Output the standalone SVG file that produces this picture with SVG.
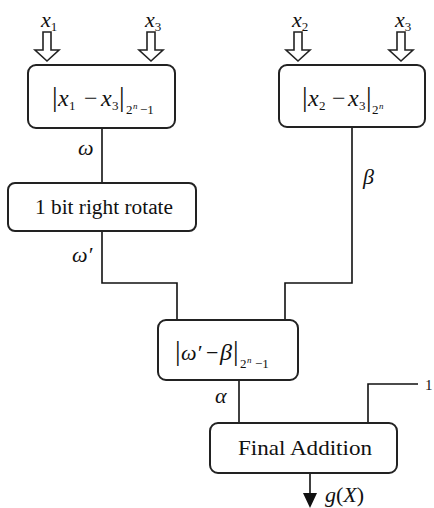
<svg xmlns="http://www.w3.org/2000/svg" width="434" height="508" viewBox="0 0 434 508">
<defs>
<style>
.box{fill:#fff;stroke:#222;stroke-width:2}
.ln{fill:none;stroke:#111;stroke-width:1.6}
.ha{fill:#fff;stroke:#222;stroke-width:1.6;stroke-linejoin:miter}
text{font-family:"Liberation Serif","DejaVu Serif","Noto Serif",serif;fill:#111}
.it{font-style:italic}
.up{font-style:normal}
.lbl{font-size:22px}
.sub{font-size:13px}
.m{font-size:24px}
.ms{font-size:13px}
.mss{font-size:9px}
</style>
</defs>
<rect width="434" height="508" fill="#fff"/>

<g id="in-x1">
<text x="41" y="27" class="lbl it">x<tspan class="sub up" dy="4">1</tspan></text>
<path class="ha" d="M43,32 L51,32 L51,50 L59,50 L47,61 L35,50 L43,50 Z"/>
</g>
<g id="in-x3a">
<text x="145" y="27" class="lbl it">x<tspan class="sub up" dy="4">3</tspan></text>
<path class="ha" d="M147,32 L155,32 L155,50 L163,50 L151,61 L139,50 L147,50 Z"/>
</g>
<g id="in-x2">
<text x="292" y="27" class="lbl it">x<tspan class="sub up" dy="4">2</tspan></text>
<path class="ha" d="M294,32 L302,32 L302,50 L310,50 L298,61 L286,50 L294,50 Z"/>
</g>
<g id="in-x3b">
<text x="395" y="27" class="lbl it">x<tspan class="sub up" dy="4">3</tspan></text>
<path class="ha" d="M397,32 L405,32 L405,50 L413,50 L401,61 L389,50 L397,50 Z"/>
</g>

<g id="connectors">
<path class="ln" d="M102,128 L102,183"/>
<path class="ln" d="M102,231 L102,283 L177,283 L177,320"/>
<path class="ln" d="M352,127 L352,283 L285,283 L285,320"/>
<path class="ln" d="M239,380 L239,423"/>
<path class="ln" d="M368,423 L368,384 L418,384"/>
<path class="ln" d="M310,473 L310,494"/>
<path d="M303,493 L317,493 L310,508 Z" fill="#111"/>
<text x="78" y="155" class="lbl it">ω</text>
<text x="363" y="184" class="lbl it">β</text>
<text x="72" y="262" class="lbl it">ω′</text>
<text x="215" y="403" class="lbl it">α</text>
<text x="425" y="390" font-size="15">1</text>
<text x="325" y="502" class="lbl"><tspan class="it">g</tspan>(<tspan class="it">X</tspan>)</text>
</g>

<g id="mod1">
<rect class="box" x="28" y="65" width="147" height="63" rx="8"/>
<text class="m" y="106"><tspan x="52" font-size="28">|</tspan><tspan x="58" class="it">x</tspan><tspan x="69" dy="4" class="ms">1</tspan><tspan x="84" dy="-4">−</tspan><tspan x="101" class="it">x</tspan><tspan x="112" dy="4" class="ms">3</tspan><tspan x="119" dy="-4" font-size="28">|</tspan><tspan x="126" dy="8" class="ms">2</tspan><tspan x="133" dy="-5" class="mss it">n</tspan><tspan x="140" dy="5" class="ms">−1</tspan></text>
</g>

<g id="mod2">
<rect class="box" x="279" y="65" width="146" height="62" rx="8"/>
<text class="m" y="106"><tspan x="302" font-size="28">|</tspan><tspan x="308" class="it">x</tspan><tspan x="319" dy="4" class="ms">2</tspan><tspan x="332" dy="-4">−</tspan><tspan x="348" class="it">x</tspan><tspan x="359" dy="4" class="ms">3</tspan><tspan x="366" dy="-4" font-size="28">|</tspan><tspan x="372" dy="8" class="ms">2</tspan><tspan x="379" dy="-5" class="mss it">n</tspan></text>
</g>

<g id="rotate">
<rect class="box" x="8" y="183" width="188" height="48" rx="7"/>
<text x="35" y="214" font-size="20" textLength="138" lengthAdjust="spacingAndGlyphs">1 bit right rotate</text>
</g>

<g id="mod3">
<rect class="box" x="158" y="320" width="140" height="60" rx="8"/>
<text class="m" y="360"><tspan x="175" font-size="28">|</tspan><tspan x="181" class="it" font-size="22">ω′</tspan><tspan x="206" font-size="22">−</tspan><tspan x="220" class="it">β</tspan><tspan x="233" font-size="28">|</tspan><tspan x="240" dy="8" class="ms">2</tspan><tspan x="247" dy="-5" class="mss it">n</tspan><tspan x="255" dy="5" class="ms">−1</tspan></text>
</g>

<g id="final">
<rect class="box" x="210" y="423" width="187" height="50" rx="8"/>
<text x="238" y="455" font-size="22" textLength="134" lengthAdjust="spacingAndGlyphs">Final Addition</text>
</g>
</svg>
